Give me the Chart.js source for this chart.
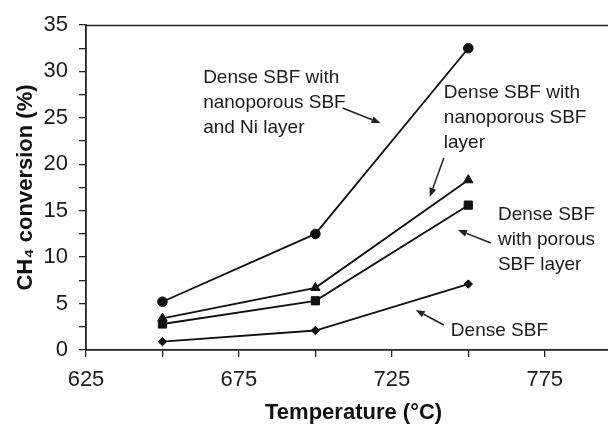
<!DOCTYPE html>
<html>
<head>
<meta charset="utf-8">
<script src="https://cdn.jsdelivr.net/npm/chart.js@4.4.1/dist/chart.umd.min.js"></script>
<style>
  html, body { margin: 0; padding: 0; background: #fff; overflow: hidden; width: 608px; height: 426px; }
  #wrap { width: 628px; height: 426px; position: relative; }
  #c { display: block; width: 628px; height: 426px; }
</style>
</head>
<body>
<div id="wrap"><canvas id="c" width="628" height="426"></canvas></div>
<script>
// ---- data ----
const temperatures = [650, 700, 750];
const niLayer      = [5.2, 12.5, 32.5];   // Dense SBF with nanoporous SBF and Ni layer
const nanoporous   = [3.4, 6.7, 18.3];    // Dense SBF with nanoporous SBF layer
const porous       = [2.8, 5.3, 15.6];    // Dense SBF with porous SBF layer
const denseOnly    = [0.9, 2.1, 7.1];     // Dense SBF
const xLabelTicks  = [625, 675, 725, 775];
const yLabelTicks  = [0, 5, 10, 15, 20, 25, 30, 35];

// ---- annotations (data units) ----
const noteTexts = [
  ['Dense SBF with', 'nanoporous SBF', 'and Ni layer'],
  ['Dense SBF with', 'nanoporous SBF', 'layer'],
  ['Dense SBF', 'with porous', 'SBF layer'],
  ['Dense SBF']
];
const noteAnchors = [[663.3, 29.3], [742.0, 27.68], [759.7, 14.54], [744.3, 2.05]];
const arrowFrom = [[708.9, 26.06], [742.0, 20.68], [757.4, 11.52], [742.0, 2.69]];
const arrowTo   = [[721.3, 24.44], [737.4, 16.48], [746.6, 12.92], [732.8, 4.31]];

const pts = arr => temperatures.map((t, i) => ({ x: t, y: arr[i] }));

function series(label, arr, style, radius) {
  return {
    label, data: pts(arr), showLine: true,
    borderColor: '#111', backgroundColor: '#111', borderWidth: 1.8,
    pointStyle: style, pointRadius: radius, pointHoverRadius: radius,
    pointBorderWidth: 1, pointBorderColor: '#111', pointBackgroundColor: '#111'
  };
}

const annotationPlugin = {
  id: 'notes',
  afterDatasetsDraw(chart) {
    const { ctx, scales: { x, y }, chartArea } = chart;
    ctx.save();
    // top frame line
    ctx.strokeStyle = '#222';
    ctx.lineWidth = 1.5;
    ctx.beginPath();
    ctx.moveTo(chartArea.left, chartArea.top + 0.5);
    ctx.lineTo(chartArea.right, chartArea.top + 0.5);
    ctx.stroke();
    // texts
    ctx.fillStyle = '#1a1a1a';
    ctx.font = '19px "Liberation Sans", Arial, sans-serif';
    ctx.textBaseline = 'middle';
    ctx.textAlign = 'left';
    noteTexts.forEach((lines, i) => {
      const px = x.getPixelForValue(noteAnchors[i][0]);
      const py = y.getPixelForValue(noteAnchors[i][1]);
      lines.forEach((ln, k) => ctx.fillText(ln, px, py + k * 25));
    });
    // arrows
    ctx.strokeStyle = '#222';
    ctx.lineWidth = 1.5;
    arrowFrom.forEach((f, i) => {
      const x1 = x.getPixelForValue(f[0]), y1 = y.getPixelForValue(f[1]);
      const x2 = x.getPixelForValue(arrowTo[i][0]), y2 = y.getPixelForValue(arrowTo[i][1]);
      const ang = Math.atan2(y2 - y1, x2 - x1);
      const hl = 9, hw = 3.5;
      const bx = x2 - hl * Math.cos(ang), by = y2 - hl * Math.sin(ang);
      ctx.beginPath();
      ctx.moveTo(x1, y1);
      ctx.lineTo(bx, by);
      ctx.stroke();
      ctx.beginPath();
      ctx.moveTo(x2, y2);
      ctx.lineTo(bx + hw * Math.sin(ang), by - hw * Math.cos(ang));
      ctx.lineTo(bx - hw * Math.sin(ang), by + hw * Math.cos(ang));
      ctx.closePath();
      ctx.fillStyle = '#222';
      ctx.fill();
    });
    ctx.restore();
  }
};

new Chart(document.getElementById('c'), {
  type: 'scatter',
  data: {
    datasets: [
      series('Dense SBF with nanoporous SBF and Ni layer', niLayer, 'circle', 4.8),
      series('Dense SBF with nanoporous SBF layer', nanoporous, 'triangle', 5.4),
      series('Dense SBF with porous SBF layer', porous, 'rect', 5.8),
      series('Dense SBF', denseOnly, 'rectRot', 4.2)
    ]
  },
  options: {
    responsive: false,
    animation: false,
    devicePixelRatio: 1,
    layout: { padding: { left: 0, right: 0, top: 25, bottom: 0 } },
    plugins: { legend: { display: false }, tooltip: { enabled: false } },
    scales: {
      x: {
        type: 'linear', min: 625, max: 800,
        afterBuildTicks: s => {
          const t = [];
          for (let v = 625; v <= 800; v += 25) t.push({ value: v });
          s.ticks = t;
        },
        afterFit: s => { s.height = 76; s.paddingLeft = 0; s.paddingRight = 0; },
        border: { display: true, color: '#222', width: 1.8 },
        grid: { display: true, drawOnChartArea: false, drawTicks: true, tickLength: 7, color: '#222', lineWidth: 1.3 },
        ticks: {
          color: '#1a1a1a', padding: 10, maxRotation: 0, autoSkip: false,
          font: { family: '"Liberation Sans", Arial, sans-serif', size: 22 },
          callback: v => xLabelTicks.includes(v) ? String(v) : ''
        },
        title: {
          display: true, text: 'Temperature (°C)', color: '#111',
          font: { family: '"Liberation Sans", Arial, sans-serif', size: 22, weight: 'bold' },
          padding: { top: 0, bottom: 0 }
        }
      },
      y: {
        type: 'linear', min: 0, max: 35,
        afterBuildTicks: s => {
          const t = [];
          for (let v = 0; v <= 35; v += 2.5) t.push({ value: v });
          s.ticks = t;
        },
        afterFit: s => { s.width = 86; s.paddingTop = 0; s.paddingBottom = 0; },
        border: { display: true, color: '#222', width: 1.8 },
        grid: { display: true, drawOnChartArea: false, drawTicks: true, tickLength: 7, color: '#222', lineWidth: 1.3 },
        ticks: {
          color: '#1a1a1a', padding: 11, autoSkip: false,
          font: { family: '"Liberation Sans", Arial, sans-serif', size: 22 },
          callback: v => yLabelTicks.includes(v) ? String(v) : ''
        },
        title: {
          display: true, text: 'CH₄ conversion (%)', color: '#111',
          font: { family: '"Liberation Sans", Arial, sans-serif', size: 22, weight: 'bold' },
          padding: { top: 13, bottom: 0 }
        }
      }
    }
  },
  plugins: [annotationPlugin]
});
</script>
</body>
</html>
